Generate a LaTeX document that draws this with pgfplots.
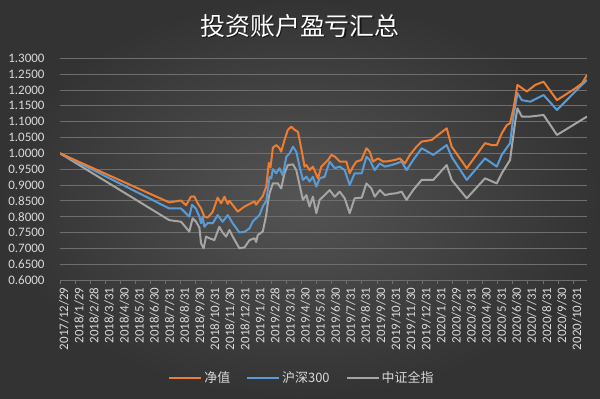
\documentclass[border=0pt]{standalone}
\usepackage{pgfplots}
\pgfplotsset{compat=1.18}
\usepackage{fontspec}
\setmainfont{Carlito}
\newfontfamily\cjk{Noto Sans CJK SC}
\definecolor{bgin}{HTML}{545454}
\definecolor{bgout}{HTML}{333333}
\definecolor{gridc}{HTML}{6E6E6E}
\definecolor{txtc}{HTML}{D9D9D9}
\definecolor{orangec}{HTML}{ED7D31}
\definecolor{bluec}{HTML}{5B9BD5}
\definecolor{grayc}{HTML}{A5A5A5}
\begin{document}
\begin{tikzpicture}[x=1bp,y=1bp]
\shade[inner color=bgin, outer color=bgout] (0,0) rectangle (600,398);
\useasboundingbox (0,0) rectangle (600,398);
\node[text=black, opacity=0.6, font=\cjk\fontsize{25}{29}\selectfont] at (301.2,370.8) {投资账户盈亏汇总};
\node[text=white, font=\cjk\fontsize{25}{29}\selectfont] at (300,372) {投资账户盈亏汇总};
\begin{axis}[
  at={(60bp,118bp)}, anchor=south west, scale only axis,
  width=527bp, height=221.7bp,
  xmin=0, xmax=34.93, ymin=0.6, ymax=1.3,
  ytick={0.6,0.65,...,1.31},
  /pgf/number format/assume math mode=true,
  yticklabel={\pgfmathprintnumber[fixed,precision=4,zerofill]{\tick}},
  yticklabel style={text=txtc, font=\fontsize{13}{15}\selectfont, xshift=-12bp},
  xtick={0,...,34},
  xticklabels={2017/12/29,2018/1/29,2018/2/28,2018/3/31,2018/4/30,2018/5/31,2018/6/30,2018/7/31,2018/8/31,2018/9/30,2018/10/31,2018/11/30,2018/12/31,2019/1/31,2019/2/28,2019/3/31,2019/4/30,2019/5/31,2019/6/30,2019/7/31,2019/8/31,2019/9/30,2019/10/31,2019/11/30,2019/12/31,2020/1/31,2020/2/29,2020/3/31,2020/4/30,2020/5/31,2020/6/30,2020/7/31,2020/8/31,2020/9/30,2020/10/31},
  xticklabel style={text=txtc, font=\fontsize{13}{15}\selectfont, rotate=90, anchor=east, yshift=-4bp},
  axis x line*=bottom, axis y line*=left,
  x axis line style={draw=gridc, line width=0.75bp, -},
  y axis line style={draw=none},
  xtick align=outside, major tick length=4bp,
  xtick style={draw=gridc, line width=0.6bp},
  ytick style={draw=none},
  ymajorgrids, grid style={draw=gridc, line width=0.75bp},
  legend columns=3,
  legend style={at={(0.459,-0.442)}, anchor=center, draw=none, fill=none,
    text=txtc, font=\cjk\fontsize{13}{15}\selectfont,
    /tikz/every even column/.append style={column sep=14bp}},
  legend image code/.code={\draw[#1] (0bp,0bp) -- (32bp,0bp);},
  every axis plot/.append style={line width=2bp, line join=round, no markers},
]
\addplot[grayc, forget plot] coordinates {(0,1.0)(7.24,0.789)(8.02,0.784)(8.57,0.753)(8.79,0.795)(9.02,0.784)(9.24,0.765)(9.35,0.716)(9.52,0.700)(9.68,0.737)(9.90,0.732)(10.23,0.726)(10.56,0.768)(10.78,0.750)(11.01,0.737)(11.23,0.758)(11.45,0.737)(11.89,0.700)(12.23,0.703)(12.56,0.726)(12.89,0.732)(13.0,0.720)(13.11,0.742)(13.44,0.753)(13.67,0.805)(13.77,0.842)(13.89,0.874)(14.11,0.905)(14.44,0.905)(14.66,0.889)(14.88,0.937)(15.10,0.963)(15.44,0.965)(15.66,0.947)(15.88,0.90)(16.10,0.853)(16.33,0.868)(16.54,0.832)(16.76,0.863)(16.99,0.811)(17.21,0.853)(17.54,0.868)(17.87,0.884)(18.21,0.863)(18.54,0.879)(18.87,0.858)(19.20,0.811)(19.53,0.858)(20.0,0.860)(20.31,0.905)(20.64,0.889)(20.86,0.863)(21.20,0.884)(21.53,0.868)(21.9,0.872)(22.31,0.874)(22.64,0.879)(22.97,0.853)(23.41,0.884)(23.97,0.916)(24.74,0.916)(25.63,0.963)(25.96,0.916)(26.96,0.858)(28.17,0.921)(28.95,0.905)(29.28,0.937)(29.83,0.979)(30.17,1.10)(30.32,1.142)(30.61,1.116)(31.16,1.116)(32.05,1.121)(32.94,1.058)(34.93,1.116)};
\addplot[bluec, forget plot] coordinates {(0,1.0)(7.24,0.826)(8.02,0.826)(8.57,0.800)(8.75,0.837)(9.0,0.826)(9.24,0.800)(9.35,0.779)(9.45,0.80)(9.57,0.768)(9.79,0.780)(10.12,0.779)(10.45,0.805)(10.78,0.784)(11.12,0.805)(11.45,0.779)(11.89,0.750)(12.23,0.752)(12.56,0.763)(12.78,0.785)(13.22,0.805)(13.44,0.832)(13.67,0.850)(13.89,0.925)(14.0,0.921)(14.11,0.950)(14.33,0.937)(14.55,0.953)(14.77,0.930)(15.0,0.989)(15.22,1.0)(15.44,1.021)(15.66,1.005)(15.88,0.958)(16.10,0.916)(16.33,0.926)(16.54,0.911)(16.76,0.926)(16.99,0.895)(17.21,0.921)(17.54,0.926)(17.87,0.974)(18.21,0.953)(18.54,0.958)(18.87,0.947)(19.20,0.90)(19.53,0.937)(20.0,0.937)(20.31,0.989)(20.53,0.979)(20.86,0.947)(21.20,0.968)(21.53,0.958)(21.9,0.962)(22.31,0.968)(22.64,0.974)(22.97,0.947)(23.41,0.979)(23.97,1.016)(24.74,0.995)(25.63,1.026)(25.96,0.989)(26.96,0.916)(28.17,0.984)(28.95,0.958)(29.28,0.995)(29.83,1.032)(30.05,1.116)(30.32,1.190)(30.61,1.168)(31.16,1.163)(32.05,1.184)(32.94,1.137)(34.15,1.195)(34.93,1.232)};
\addplot[orangec, forget plot] coordinates {(0,1.0)(7.24,0.845)(8.02,0.851)(8.35,0.836)(8.68,0.863)(8.90,0.864)(9.12,0.843)(9.35,0.826)(9.57,0.800)(9.79,0.797)(10.12,0.815)(10.45,0.860)(10.68,0.842)(10.90,0.863)(11.12,0.840)(11.23,0.850)(11.78,0.816)(12.23,0.832)(12.56,0.840)(12.89,0.848)(13.0,0.838)(13.44,0.865)(13.67,0.895)(13.84,0.970)(13.95,0.955)(14.11,1.018)(14.33,1.026)(14.55,1.016)(14.66,1.005)(14.88,1.042)(15.10,1.074)(15.33,1.084)(15.55,1.074)(15.77,1.068)(15.99,1.016)(16.21,0.958)(16.33,0.963)(16.54,0.947)(16.76,0.958)(17.10,0.921)(17.32,0.958)(17.54,0.968)(17.76,0.979)(17.99,0.995)(18.21,0.990)(18.54,0.974)(18.98,0.974)(19.20,0.937)(19.42,0.958)(19.65,0.974)(19.98,0.979)(20.31,1.016)(20.53,1.005)(20.75,0.974)(21.08,0.984)(21.42,0.974)(21.75,0.975)(22.19,0.979)(22.52,0.984)(22.86,0.968)(23.19,0.995)(23.63,1.021)(23.97,1.037)(24.63,1.042)(25.63,1.079)(25.96,1.021)(26.96,0.953)(28.17,1.032)(28.62,1.026)(28.95,1.026)(29.28,1.063)(29.61,1.089)(29.83,1.095)(30.05,1.140)(30.32,1.216)(30.94,1.195)(31.50,1.216)(32.05,1.226)(32.94,1.168)(34.15,1.205)(34.60,1.221)(34.93,1.247)};
\addlegendimage{orangec, line width=2bp}
\addlegendentry{净值}
\addlegendimage{bluec, line width=2bp}
\addlegendentry{沪深300}
\addlegendimage{grayc, line width=2bp}
\addlegendentry{中证全指}
\end{axis}
\end{tikzpicture}
\end{document}
